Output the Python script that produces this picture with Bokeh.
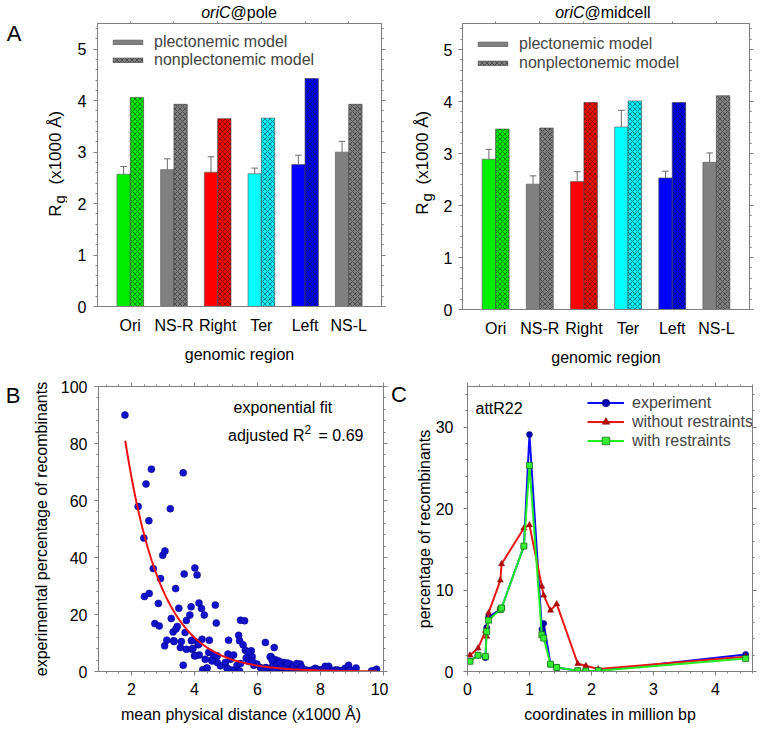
import numpy as np
from bokeh.plotting import figure
from bokeh.models import (ColumnDataSource, Label, Legend, LegendItem, LinearAxis,
                          FixedTicker, SingleIntervalTicker, CustomJSTickFormatter, Range1d)
from bokeh.layouts import column, row
from bokeh.embed import file_html
from bokeh.resources import INLINE

# ---------------- data ----------------
regions = ["Ori", "NS-R", "Right", "Ter", "Left", "NS-L"]
region_colors = ["#00ee00", "#808080", "#ff0000", "#00ffff", "#0000ff", "#808080"]

pole_plect = [2.57, 2.66, 2.61, 2.58, 2.76, 3.00]
pole_plect_err = [0.15, 0.21, 0.30, 0.11, 0.18, 0.21]
pole_nonplect = [4.06, 3.93, 3.65, 3.66, 4.43, 3.93]

mid_plect = [2.89, 2.41, 2.46, 3.51, 2.53, 2.83]
mid_plect_err = [0.19, 0.16, 0.19, 0.32, 0.13, 0.18]
mid_nonplect = [3.47, 3.49, 3.98, 4.01, 3.98, 4.11]

# panel B: mean physical distance (x1000 A) vs experimental % recombinants
b_dist = [1.79, 2.21, 2.46, 2.63, 2.55, 2.39, 2.41, 2.56, 2.69, 2.85, 2.74, 2.88, 2.92, 2.99,
          3.06, 3.23, 3.64, 3.05, 3.12, 3.26, 3.32, 3.41, 3.45, 3.40, 3.34, 3.50, 3.55, 3.64,
          3.67, 3.70, 3.74, 3.74, 3.85, 3.89, 3.90, 4.01, 4.08, 4.00, 3.92, 4.11, 4.14, 4.22,
          4.31, 4.12, 4.15, 4.24, 4.26, 4.38, 4.45, 4.47, 4.54, 4.61, 4.66, 4.69, 4.72, 4.82,
          4.72, 4.98, 5.03, 5.06, 5.08, 5.14, 5.19, 5.24, 5.35, 5.38, 5.40, 5.43, 5.46, 5.46,
          5.54, 5.59, 5.61, 5.67, 5.72, 5.80, 5.83, 5.88, 5.98, 6.09, 6.25, 6.27, 6.35, 6.43,
          6.49, 6.53, 6.57, 6.62, 6.67, 6.72, 6.78, 6.83, 6.91, 6.98, 7.04, 7.12, 7.20, 7.28,
          7.36, 7.44, 7.51, 7.73, 7.83, 7.94, 8.07, 8.15, 8.26, 8.31, 8.47, 8.63, 8.78, 8.89,
          8.83, 9.13, 9.62, 9.78, 4.34, 4.56, 4.40, 5.05, 5.43, 5.70, 5.64, 5.72, 5.83, 6.25,
          6.40, 6.46, 6.50, 6.61, 6.70, 6.76, 6.88, 6.95, 7.08, 7.15, 7.25, 7.32, 7.40, 7.55,
          7.65, 7.90, 8.00, 8.20, 8.40, 8.55, 8.70, 8.95, 9.70, 3.58, 3.95, 4.02, 3.35, 3.92,
          4.13]
b_pct = [90.0, 57.9, 65.8, 71.0, 52.9, 46.8, 26.3, 27.4, 36.1, 23.9, 16.8, 16.0, 32.6, 40.8,
         42.3, 57.1, 69.7, 9.0, 11.0, 18.6, 13.9, 14.9, 15.8, 29.1, 10.8, 22.2, 8.4, 2.2,
         34.2, 13.7, 17.9, 7.8, 19.8, 22.7, 10.8, 36.3, 33.9, 5.5, 7.8, 10.2, 24.0, 22.1,
         19.8, 9.4, 5.8, 11.3, 0.6, 1.1, 6.7, 11.0, 4.0, 5.8, 23.3, 17.0, 5.5, 2.0,
         3.2, 3.2, 1.2, 6.1, 11.0, 4.3, 0.5, 5.8, 2.2, 0.2, 12.7, 10.8, 18.0, 2.8,
         9.4, 17.8, 7.5, 4.9, 6.1, 7.3, 5.2, 2.2, 2.6, 1.4, 10.2, 1.4, 0.8, 5.2,
         2.3, 8.4, 4.1, 0.2, 3.7, 2.0, 0.8, 3.2, 2.2, 1.1, 2.6, 0.8, 2.0, 0.5,
         2.6, 0.8, 0.2, 0.5, 1.1, 0.2, 0.8, 1.8, 1.8, 0.2, 0.5, 0.2, 1.1, 2.2,
         0.2, 1.2, 0.2, 0.8, 4.3, 3.7, 1.2, 0.9, 0.2, 6.9, 4.7, 3.5, 3.7, 1.2,
         5.2, 4.0, 0.5, 2.5, 3.0, 1.5, 1.5, 3.0, 1.0, 1.8, 2.8, 0.3, 1.5, 0.5,
         0.3, 0.8, 0.3, 1.2, 0.3, 0.5, 0.3, 0.5, 0.3, 10.5, 8.1, 5.5, 10.5, 11.0,
         9.6]
# exponential fit y = a * exp(-k x), drawn over the fitted interval
fit_a = 389.0
fit_k = 0.872
fit_range = (1.8, 9.8)

# panel C: attR22 profile
c_pos = [0.04, 0.17, 0.29, 0.31, 0.34, 0.53, 0.55, 0.91, 1.00, 1.20, 1.23, 1.34, 1.44,
         1.78, 1.91, 2.11, 4.49]
c_experiment = [1.3, 2.0, 1.7, 5.4, 6.7, 7.6, 7.8, 15.4, 29.1, 5.2, 5.9, 0.9, 0.5,
                0.1, 0.05, 0.1, 2.1]
c_without = [2.0, 2.85, 5.0, 4.3, 7.2, 11.2, 13.2, 17.6, 18.0, 10.45, 9.35, 7.5, 8.3,
             0.95, 0.7, 0.3, 1.8]
c_with = [1.25, 2.0, 1.85, 4.9, 6.3, 7.6, 7.8, 15.4, 25.3, 4.5, 4.1, 0.9, 0.5,
          0.1, 0.05, 0.1, 1.6]

# ---------------- styling helpers ----------------
FONT = "Liberation Sans"
AX = "#7f7f7f"
BAR_W = 0.305


def style_axis(ax, ticker, tick_out=4, minor_out=2, labels=True, standoff=7, label_standoff=9):
    ax.ticker = ticker
    ax.axis_line_color = AX
    ax.major_tick_line_color = AX
    ax.minor_tick_line_color = AX
    ax.major_tick_out = tick_out
    ax.major_tick_in = 0
    ax.minor_tick_out = minor_out
    ax.minor_tick_in = 0
    ax.major_label_text_font = FONT
    ax.major_label_text_font_size = "16px"
    ax.major_label_text_color = "black"
    ax.major_label_standoff = standoff
    ax.axis_label_text_font = FONT
    ax.axis_label_text_font_size = "16px"
    ax.axis_label_text_font_style = "normal"
    ax.axis_label_text_color = "black"
    ax.axis_label_standoff = label_standoff
    if not labels:
        ax.formatter = CustomJSTickFormatter(code="return ''")
        ax.major_label_standoff = 0


def make_fig(w, h, xr, yr, bl, br, bt, bb):
    p = figure(width=w, height=h, x_range=xr, y_range=yr, output_backend="svg",
               toolbar_location=None, min_border_left=bl, min_border_right=br,
               min_border_top=bt, min_border_bottom=bb)
    p.grid.visible = False
    p.outline_line_color = AX
    p.background_fill_color = "white"
    p.border_fill_color = "white"
    return p


def text_fig(w, h):
    p = figure(width=w, height=h, x_range=Range1d(0, 1), y_range=Range1d(0, 1),
               x_axis_type=None, y_axis_type=None, output_backend="svg",
               toolbar_location=None, min_border_left=0, min_border_right=0,
               min_border_top=0, min_border_bottom=0)
    p.outline_line_color = None
    p.background_fill_color = "white"
    p.border_fill_color = "white"
    return p


def add_text(p, x, y, text, size=16, style="normal", align="left", baseline="middle", angle=0.0):
    p.add_layout(Label(x=x, y=y, x_units="screen", y_units="screen", text=text,
                       text_font=FONT, text_font_size=f"{size}px", text_font_style=style,
                       text_align=align, text_baseline=baseline, angle=angle,
                       text_color="black"))


def bar_panel(w, h, borders, plect, err, nonplect, legend_loc, legend_spacing, ystandoff):
    bl, br, bt, bb = borders
    p = make_fig(w, h, Range1d(0.25, 6.75), Range1d(0, 5.5), bl, br, bt, bb)
    pos = [i + 1 for i in range(len(regions))]
    x_pl = [c - BAR_W / 2 for c in pos]
    x_np = [c + BAR_W / 2 for c in pos]
    err_top = [t + e for t, e in zip(plect, err)]
    src = ColumnDataSource(dict(x_pl=x_pl, x_np=x_np, plect=plect, nonplect=nonplect,
                                err_top=err_top, color=region_colors,
                                cap0=[x - 0.075 for x in x_pl], cap1=[x + 0.075 for x in x_pl]))
    r_pl = p.vbar(x="x_pl", top="plect", width=BAR_W, bottom=0, source=src,
                  fill_color="color", line_color="#505050", line_width=0.6)
    r_np = p.vbar(x="x_np", top="nonplect", width=BAR_W, bottom=0, source=src,
                  fill_color="color", line_color="#404040", line_width=0.6,
                  hatch_pattern="diagonal_cross", hatch_color="#1a1a1a", hatch_alpha=0.85,
                  hatch_scale=5, hatch_weight=0.6)
    p.segment(x0="x_pl", y0="plect", x1="x_pl", y1="err_top", source=src,
              line_color="#6a6a6a", line_width=1)
    p.segment(x0="cap0", y0="err_top", x1="cap1", y1="err_top", source=src,
              line_color="#6a6a6a", line_width=1)

    style_axis(p.below[0], FixedTicker(ticks=pos), tick_out=0, minor_out=0, standoff=10,
               label_standoff=9)
    p.below[0].major_label_overrides = {c: name for c, name in zip(pos, regions)}
    p.below[0].axis_label = "genomic region"
    style_axis(p.left[0], SingleIntervalTicker(interval=1, num_minor_ticks=5), standoff=ystandoff)
    top = LinearAxis()
    style_axis(top, FixedTicker(ticks=pos), tick_out=2, minor_out=0, labels=False)
    p.add_layout(top, "above")
    right = LinearAxis()
    style_axis(right, SingleIntervalTicker(interval=1, num_minor_ticks=5), labels=False)
    p.add_layout(right, "right")

    legend = Legend(items=[LegendItem(label="plectonemic model", renderers=[r_pl], index=1),
                           LegendItem(label="nonplectonemic model", renderers=[r_np], index=1)],
                    location=legend_loc, padding=0, margin=0, spacing=legend_spacing,
                    glyph_width=37, glyph_height=6, label_height=18, label_standoff=8,
                    label_text_font=FONT, label_text_font_size="16px",
                    border_line_color=None, background_fill_alpha=0)
    p.add_layout(legend)
    return p


def title_fig(w, h, join_x, y, rest):
    t = text_fig(w, h)
    add_text(t, join_x, y, "oriC", size=16, style="italic", align="right")
    add_text(t, join_x, y, rest, size=16, align="left")
    return t


def rg_fig(w, h, x, r_end, paren):
    # its frame lines up with the neighbouring plot frame, positions are relative to it
    f = text_fig(w, h)
    ang = np.pi / 2
    add_text(f, x, r_end, "R", size=17, align="right", angle=ang)
    add_text(f, x + 4, r_end + 1, "g", size=15, align="left", angle=ang)
    add_text(f, x, paren, "(x1000 Å)", size=17, align="left", angle=ang)
    return f


# ---------------- panel A ----------------
t1 = title_fig(403, 21, 230, 9, "@pole")
l1 = rg_fig(67, 352, 55, 102, 122)
add_text(l1, 13.5, 273, "A", size=22, align="center")
a1 = bar_panel(336, 352, (30, 22, 2, 67), pole_plect, pole_plect_err, pole_nonplect,
               (12, 237), 0, 7)

t2 = title_fig(358, 21, 181, 9, "@midcell")
l2 = rg_fig(34, 352, 19, 107, 125)
a2 = bar_panel(324, 352, (25, 12, 2, 64), mid_plect, mid_plect_err, mid_nonplect,
               (12, 237), 1, 6)

# ---------------- panel B ----------------
lb = text_fig(25, 361)
add_text(lb, 12.5, 276, "B", size=22, align="center")
b = make_fig(363, 361, Range1d(0.95, 10), Range1d(0, 100), 73, 5, 13, 63)
b.scatter(x=b_dist, y=b_pct, marker="circle", size=7, fill_color="#1212cc",
          line_color="#000080", line_width=0.5)
fit_x = np.linspace(fit_range[0], fit_range[1], 200)
b.line(x=fit_x, y=fit_a * np.exp(-fit_k * fit_x), line_color="#ee1111", line_width=2)
style_axis(b.below[0], SingleIntervalTicker(interval=2, num_minor_ticks=5), standoff=7,
           label_standoff=8)
b.below[0].axis_label = "mean physical distance (x1000 Å)"
style_axis(b.left[0], SingleIntervalTicker(interval=20, num_minor_ticks=5), standoff=7,
           label_standoff=8)
b.left[0].axis_label = "experimental percentage of recombinants"
bt_ax = LinearAxis()
style_axis(bt_ax, SingleIntervalTicker(interval=2, num_minor_ticks=5), labels=False)
b.add_layout(bt_ax, "above")
br_ax = LinearAxis()
style_axis(br_ax, SingleIntervalTicker(interval=20, num_minor_ticks=5), labels=False)
b.add_layout(br_ax, "right")
add_text(b, 135, 264, "exponential fit")
add_text(b, 206, 236, "adjusted R", align="right")
add_text(b, 206, 242, "2", size=12, align="left")
add_text(b, 220, 236, "= 0.69", align="left")

# ---------------- panel C ----------------
lc = text_fig(24, 361)
add_text(lc, 10.5, 277, "C", size=22, align="center")
c = make_fig(349, 361, Range1d(0, 4.6), Range1d(0, 35), 51, 9, 10, 62)
csrc = ColumnDataSource(dict(x=c_pos, exp=c_experiment, wo=c_without, wr=c_with))
r1 = c.line("x", "exp", source=csrc, line_color="#0a0aff", line_width=2)
m1 = c.scatter("x", "exp", source=csrc, marker="circle", size=6, fill_color="#0000b0",
               line_color="#000060", line_width=0.5)
r2 = c.line("x", "wo", source=csrc, line_color="#ee1515", line_width=2)
m2 = c.scatter("x", "wo", source=csrc, marker="triangle", size=6, fill_color="#c00000",
               line_color="#700000", line_width=0.5)
r3 = c.line("x", "wr", source=csrc, line_color="#22ee22", line_width=2)
m3 = c.scatter("x", "wr", source=csrc, marker="square", size=6, fill_color="#33ee33",
               line_color="#106010", line_width=0.7)
style_axis(c.below[0], SingleIntervalTicker(interval=1, num_minor_ticks=5), standoff=7,
           label_standoff=8)
c.below[0].axis_label = "coordinates in million bp"
style_axis(c.left[0], SingleIntervalTicker(interval=10, num_minor_ticks=5), standoff=10,
           label_standoff=0)
c.left[0].axis_label = "percentage of recombinants"
ct_ax = LinearAxis()
style_axis(ct_ax, SingleIntervalTicker(interval=1, num_minor_ticks=5), labels=False)
c.add_layout(ct_ax, "above")
cr_ax = LinearAxis()
style_axis(cr_ax, SingleIntervalTicker(interval=10, num_minor_ticks=5), labels=False)
c.add_layout(cr_ax, "right")
c_legend = Legend(items=[LegendItem(label="experiment", renderers=[r1, m1]),
                         LegendItem(label="without restraints", renderers=[r2, m2]),
                         LegendItem(label="with restraints", renderers=[r3, m3])],
                  location=(120, 221), padding=0, margin=0, spacing=0,
                  glyph_width=37, glyph_height=19, label_height=19, label_standoff=8,
                  label_text_font=FONT, label_text_font_size="16px",
                  border_line_color=None, background_fill_alpha=0)
c.add_layout(c_legend)
add_text(c, 8, 263, "attR22")

layout = column(
    row(column(t1, row(l1, a1)), column(t2, row(l2, a2))),
    row(lb, b, lc, c),
)
open("out.html", "w").write(file_html(layout, INLINE))
